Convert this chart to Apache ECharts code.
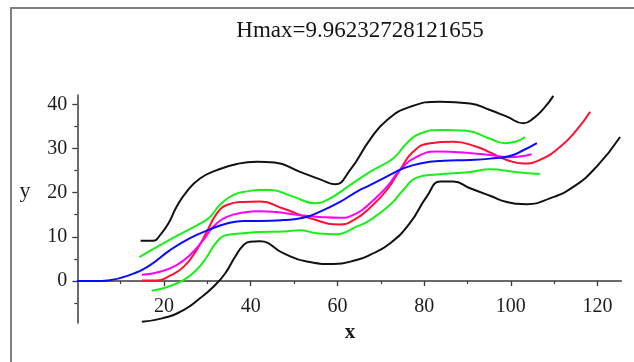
<!DOCTYPE html>
<html>
<head>
<meta charset="utf-8">
<script src="https://cdn.jsdelivr.net/npm/echarts@6/dist/echarts.min.js"></script>
<style>
  html, body { margin: 0; padding: 0; background: #fff; }
  #chart { width: 634px; height: 362px; }
</style>
</head>
<body>
<div id="chart"></div>
<script>
// Curves as [x, y] pairs
const blackUpper = [[14.6,9.1],[17.5,9.1],[19.1,10.4],[21.0,13.0],[22.9,16.8],[25.2,20.2],[28.3,23.2],[32.2,25.1],[36.8,26.5],[41.4,27.0],[45.5,26.8],[51.4,24.7],[56,23.0],[59.4,21.9],[62.9,25.1],[67.5,32.0],[71.4,36.4],[76.7,39.4],[83.7,40.6],[90.6,40.2],[95.2,38.7],[99.1,37.2],[102.9,35.7],[105.2,36.8],[107.9,39.4],[109.8,41.9]];
const blackLower = [[14.9,-9.2],[19.8,-8.4],[24.5,-6.6],[28.3,-3.9],[31.4,-1.3],[34.1,1.7],[36.4,5.5],[38.3,8.1],[39.8,8.9],[42.1,9.0],[47.5,6.3],[52.9,4.4],[59.1,3.85],[64.4,4.75],[67.5,5.9],[72.1,8.5],[76.7,13.1],[80.6,19.1],[83.7,22.5],[86.7,22.5],[90.6,21.0],[95.2,19.3],[99.1,17.9],[103.7,17.4],[109,18.7],[114.4,21.3],[119.8,25.9],[125.2,32.6]];
const greenUpper = [[14.3,5.4],[19.1,8.1],[23.7,10.6],[28.3,13.0],[30.6,14.5],[32.9,17.2],[36.0,19.5],[39.8,20.4],[42.1,20.6],[44.5,20.6],[49.8,19.1],[54.8,17.6],[58.3,18.7],[62.9,21.7],[67.5,24.7],[72.9,27.8],[76.0,31.2],[79.1,33.4],[84.4,34.2],[89.8,34.0],[95.2,32.2],[98.7,31.2],[101,31.5],[103.3,32.6]];
const greenLower = [[17.2,-2.2],[20.6,-1.4],[24.5,0.2],[27.5,2.5],[29.9,5.5],[32.2,8.9],[34.5,10.4],[38.3,10.8],[42.1,11.1],[47.5,11.2],[51.4,11.5],[55.2,10.8],[59.8,10.6],[64.4,12.3],[67.5,13.8],[72.1,17.2],[75.2,20.6],[78.3,23.4],[82.9,24.1],[90.6,24.7],[95.2,25.3],[101,24.7],[106.7,24.2]];
const redCurve = [[14.9,0.1],[18.3,0.1],[21.0,1.0],[24.5,3.2],[27.5,7.0],[29.9,11.2],[32.2,15.3],[34.5,17.2],[38.3,17.9],[42.1,18.0],[47.5,16.4],[53.7,14.2],[60.6,12.8],[64.4,14.2],[67.5,16.6],[71.4,20.6],[74.4,25.1],[77.5,29.3],[81.4,31.2],[86.7,31.5],[92.1,30.4],[95.2,29.1],[99.1,27.4],[102.9,26.6],[106.7,27.4],[111.4,30.4],[115.2,34.2],[118.3,38.3]];
const magentaCurve = [[14.9,1.4],[19.1,2.1],[22.9,3.6],[26,5.9],[29.1,9.3],[31.4,12.3],[34.5,14.5],[38.3,15.5],[42.1,15.8],[46,15.6],[51.4,14.9],[56,14.5],[60.6,14.3],[64.4,15.3],[67.5,17.6],[71.4,21.3],[74.4,25.1],[78.3,28.1],[82.9,29.3],[89,29.1],[95.2,28.5],[99.8,28.0],[102.9,28.3],[104.8,28.7]];
const blueCurve = [[0,0],[4,0],[7.5,0.2],[12.2,1.4],[16.8,3.6],[21.4,7.0],[26,9.7],[30.6,11.7],[34.5,13.0],[38.3,13.6],[42.1,13.6],[47.5,13.8],[52.1,14.3],[56,15.7],[60.6,17.9],[64.4,20.2],[67.5,21.7],[72.1,24.0],[75.2,25.5],[79.1,26.6],[84.4,27.2],[90.6,27.4],[95.2,27.7],[99.8,28.3],[102.9,29.6],[106,31.2]];

// Tick positions
const xMajorTicks = [20, 40, 60, 80, 100, 120];
const xMinorTicks = [10, 30, 50, 70, 90, 110];
const yMajorTicks = [0, 10, 20, 30, 40];
const yMinorTicks = [-5, 5, 15, 25, 35];

const titleText = 'Hmax=9.96232728121655';

// Axis ranges
const X_MIN = 0, X_MAX = 125.5;
const Y_MIN = -9.5, Y_MAX = 42.1;

const GRID = { left: 77.3, right: 12.6, top: 95, bottom: 39 };
const H = 362;
const gridHeight = H - GRID.top - GRID.bottom;
// The x axis crosses at y = 0: shift it up from the grid's bottom edge
const xAxisOffset = -((0 - Y_MIN) / (Y_MAX - Y_MIN)) * gridHeight;

const serif = '"Liberation Serif", "DejaVu Serif", serif';
const axisColor = '#3a3a3a';
const labelStyle = { fontFamily: serif, fontSize: 20, color: '#1c1c1c' };

const chart = echarts.init(document.getElementById('chart'), null, { renderer: 'canvas' });

function curve(data, color) {
  return {
    type: 'line',
    data: data,
    showSymbol: false,
    smooth: 0.5,
    clip: false,
    lineStyle: { color: color, width: 2 },
    itemStyle: { color: color },
    emphasis: { disabled: true },
    silent: true
  };
}

function xAxisBase(extra) {
  return Object.assign({
    type: 'value', min: X_MIN, max: X_MAX, position: 'bottom', offset: xAxisOffset,
    splitLine: { show: false }
  }, extra);
}
function yAxisBase(extra) {
  return Object.assign({
    type: 'value', min: Y_MIN, max: Y_MAX, position: 'left',
    splitLine: { show: false }
  }, extra);
}

chart.setOption({
  animation: false,
  backgroundColor: '#ffffff',
  grid: Object.assign({ outerBoundsMode: 'none' }, GRID),
  graphic: [
    {
      type: 'rect', silent: true, z: -10,
      shape: { x: 11, y: 8, width: 700, height: 420 },
      style: { fill: 'none', stroke: '#808080', lineWidth: 2 }
    },
    {
      type: 'text', silent: true, x: 360, y: 31,
      style: { text: titleText, font: '23px ' + serif, fill: '#151515', align: 'center', verticalAlign: 'middle' }
    },
    {
      type: 'text', silent: true, x: 25, y: 191,
      style: { text: 'y', font: '22px ' + serif, fill: '#1c1c1c', align: 'center', verticalAlign: 'middle' }
    },
    {
      type: 'text', silent: true, x: 350, y: 333,
      style: { text: 'x', font: 'bold 21px ' + serif, fill: '#1c1c1c', align: 'center', verticalAlign: 'middle' }
    }
  ],
  xAxis: [
    xAxisBase({
      axisLine: { show: true, onZero: false, lineStyle: { color: axisColor, width: 1.5 } },
      axisTick: { show: true, customValues: xMajorTicks, length: 5, lineStyle: { color: axisColor, width: 1.3 } },
      axisLabel: { show: true, customValues: xMajorTicks, margin: 16, ...labelStyle }
    }),
    xAxisBase({
      axisLine: { show: false, onZero: false },
      axisTick: { show: true, customValues: xMinorTicks, length: 3, lineStyle: { color: axisColor, width: 1.2 } },
      axisLabel: { show: false }
    })
  ],
  yAxis: [
    yAxisBase({
      axisLine: { show: true, onZero: false, lineStyle: { color: axisColor, width: 1.5 } },
      axisTick: { show: true, customValues: yMajorTicks, length: 5, lineStyle: { color: axisColor, width: 1.3 } },
      axisLabel: { show: true, customValues: yMajorTicks, margin: 10, ...labelStyle }
    }),
    yAxisBase({
      axisLine: { show: false, onZero: false },
      axisTick: { show: true, customValues: yMinorTicks, length: 3, lineStyle: { color: axisColor, width: 1.2 } },
      axisLabel: { show: false }
    })
  ],
  series: [
    curve(blackUpper, '#111111'),
    curve(blackLower, '#111111'),
    curve(greenUpper, '#19f019'),
    curve(greenLower, '#19f019'),
    curve(redCurve, '#ff1030'),
    curve(magentaCurve, '#ff00ff'),
    curve(blueCurve, '#0a0aff')
  ]
});
</script>
</body>
</html>
